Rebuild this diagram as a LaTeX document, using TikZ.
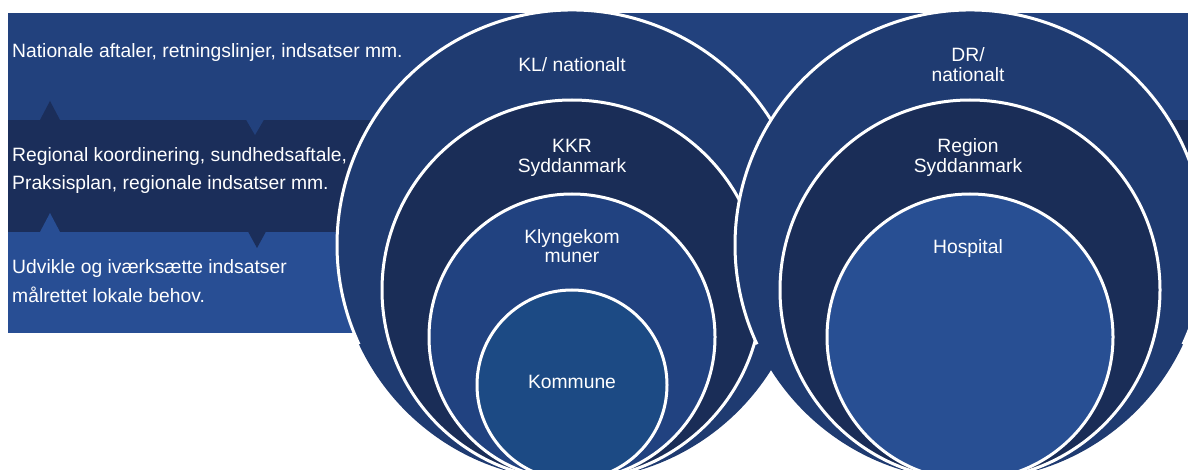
\documentclass[tikz,border=0pt]{standalone}
\usepackage{fontspec}
\setmainfont{Liberation Sans}
\usetikzlibrary{positioning}

\definecolor{bandtop}{HTML}{22417D}
\definecolor{bandmid}{HTML}{1B2E5A}
\definecolor{bandlow}{HTML}{284E94}
\definecolor{ringout}{HTML}{1F3B71}
\definecolor{ringmid}{HTML}{1A2D57}
\definecolor{ringin}{HTML}{214280}
\definecolor{kommune}{HTML}{1C4A84}
\definecolor{hospital}{HTML}{284F93}

\begin{document}
\begin{tikzpicture}[x=1pt,y=1pt,
  bandtxt/.style={text=white,inner sep=0pt,anchor=base west,align=left,
    font=\fontsize{19.3}{28.5}\selectfont},
  lbl/.style={text=white,inner sep=0pt,anchor=base,align=center,
    font=\fontsize{19.3}{20}\selectfont},
  ring/.style={draw=white,line width=3pt}]
\useasboundingbox (0,0) rectangle (1188,469);
\clip (0,0) rectangle (1188,469);
% bands
\fill[bandtop] (8,349) rectangle (1188,456);
\fill[bandmid] (8,237) rectangle (1188,349);
\fill[bandlow] (8,136) rectangle (1188,237);
% notches between the bands
\fill[bandmid] (40,349)--(50,368)--(60,349)--cycle;
\fill[bandtop] (246,349.5)--(255,334)--(264,349.5)--cycle;
\fill[bandlow] (40,237)--(50,256)--(60,237)--cycle;
\fill[bandmid] (248,237.5)--(257,221)--(266,237.5)--cycle;
% base anchor = baseline of the last line
\node[bandtxt] (natl) at (12,411) {Nationale aftaler, retningslinjer, indsatser mm.};
\node[bandtxt] (regl) at (12,279) {Regional koordinering, sundhedsaftale,\\Praksisplan, regionale indsatser mm.};
\node[bandtxt] (lokal) at (12,167) {Udvikle og iværksætte indsatser\\målrettet lokale behov.};
% kommune side
\fill[ringout] (572,224) circle[radius=235];
\draw[ring] (572,224) ++(-25:235) arc[start angle=-25,end angle=205,radius=235];
\filldraw[ring,fill=ringmid] (572,179) circle[radius=190];
\filldraw[ring,fill=ringin] (572,132) circle[radius=143];
\filldraw[ring,fill=kommune] (572,84) circle[radius=95];
\node[lbl] (kl) at (572,397) {KL/ nationalt};
\node[lbl] (kkr) at (572,296) {KKR\\Syddanmark};
\node[lbl] (klynge) at (572,206) {Klyngekom\\muner};
\node[lbl] (komm) at (572,81) {Kommune};
% region side
\fill[ringout] (970,224) circle[radius=235];
\draw[ring] (970,224) ++(-25:235) arc[start angle=-25,end angle=205,radius=235];
\filldraw[ring,fill=ringmid] (970,179) circle[radius=190];
\filldraw[ring,fill=hospital] (970,132) circle[radius=143];
\node[lbl] (dr) at (968,387) {DR/\\nationalt};
\node[lbl] (region) at (968,296) {Region\\Syddanmark};
\node[lbl] (hosp) at (968,215) {Hospital};
\end{tikzpicture}
\end{document}
